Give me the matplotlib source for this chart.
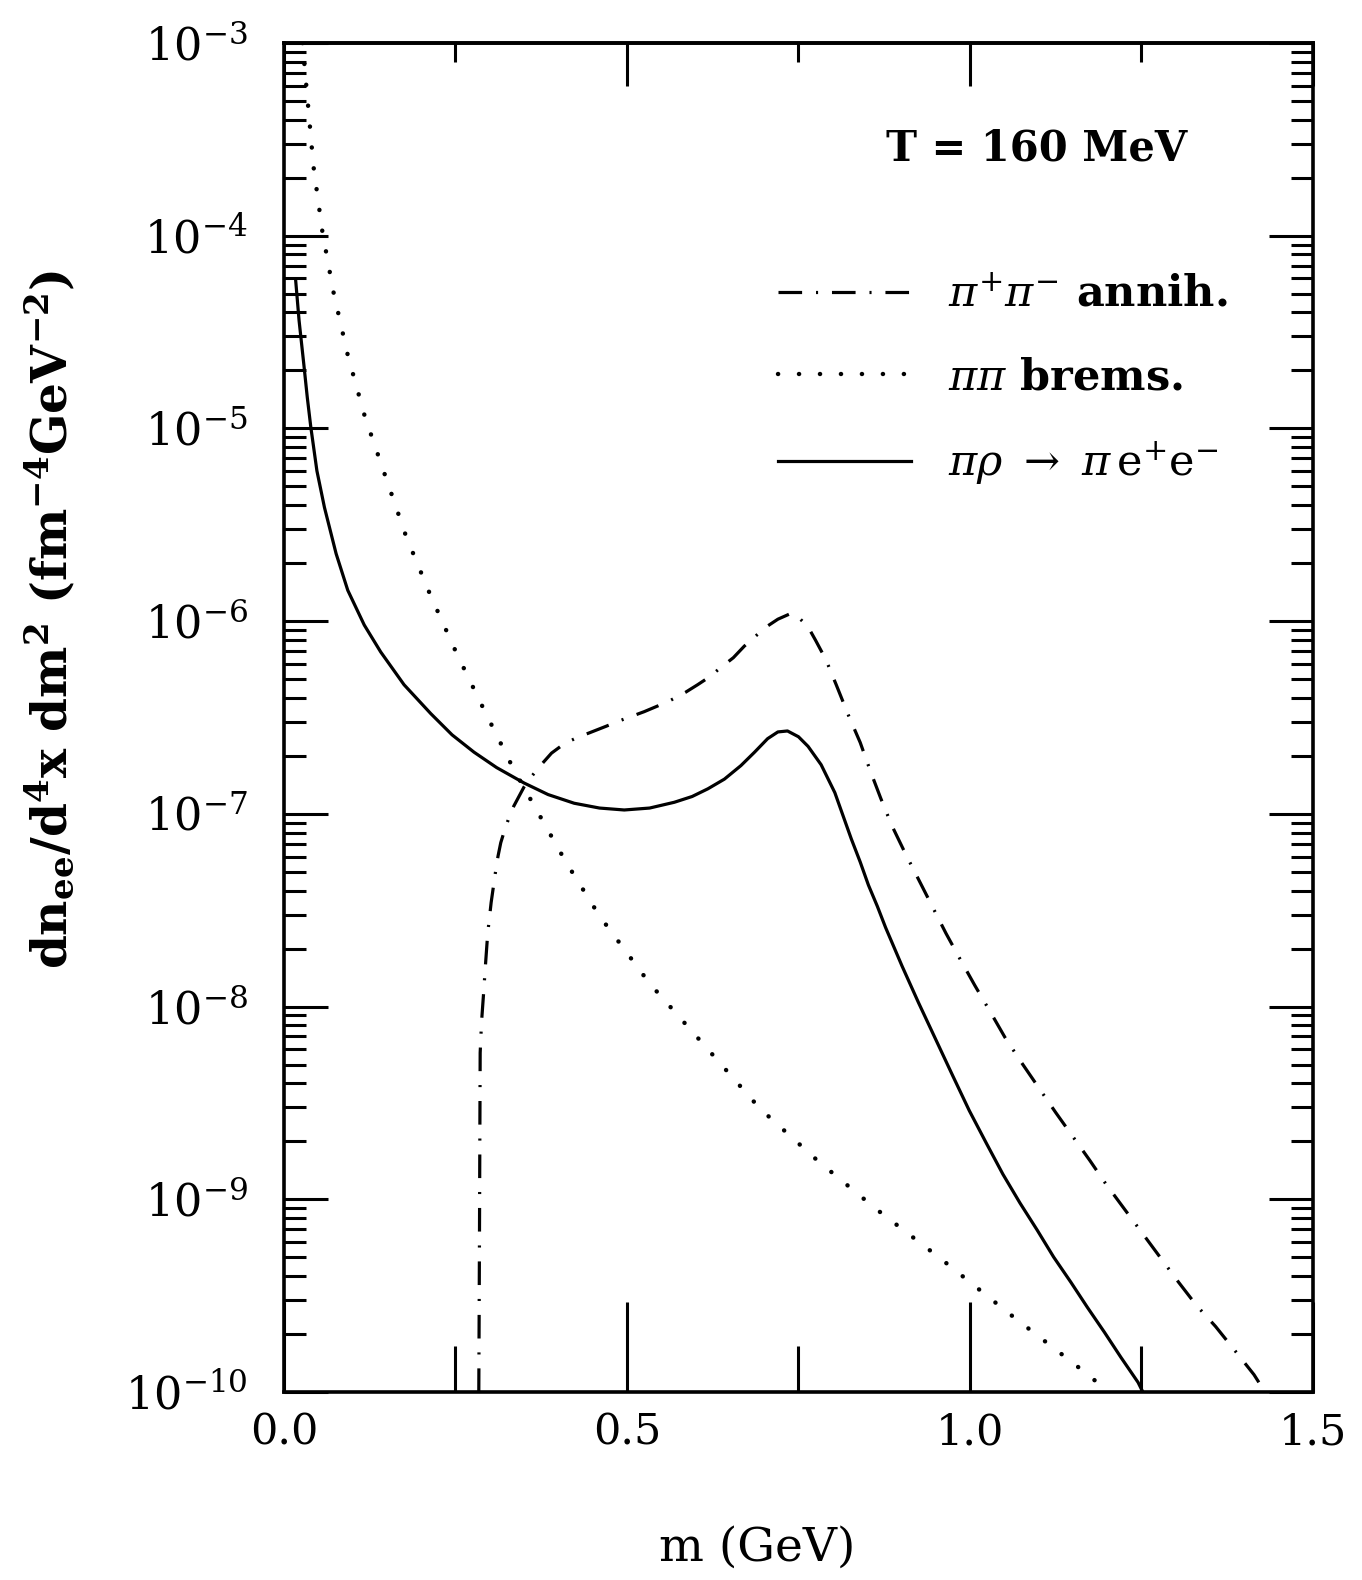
import numpy as np
import matplotlib
matplotlib.use('Agg')
import matplotlib.pyplot as plt
from matplotlib.ticker import MultipleLocator, LogLocator, NullFormatter
from matplotlib.lines import Line2D

plt.rcParams['font.family'] = 'DejaVu Serif'
plt.rcParams['mathtext.fontset'] = 'dejavuserif'
plt.rcParams['lines.scale_dashes'] = False

# pi rho -> pi e+ e-  (solid), values as log10 of the rate
m_pirho = [0.017, 0.022, 0.029, 0.034, 0.039, 0.048, 0.059, 0.076, 0.093, 0.117,
           0.141, 0.175, 0.214, 0.245, 0.277, 0.310, 0.350, 0.385, 0.423, 0.460,
           0.496, 0.533, 0.569, 0.595, 0.618, 0.642, 0.666, 0.686, 0.705, 0.720,
           0.734, 0.750, 0.764, 0.783, 0.803, 0.815, 0.827, 0.840, 0.852, 0.865,
           0.877, 0.901, 0.925, 0.950, 0.975, 0.999, 1.024, 1.048, 1.073, 1.098,
           1.122, 1.147, 1.171, 1.196, 1.220, 1.245, 1.252]
lg_pirho = [-4.23, -4.44, -4.67, -4.84, -4.99, -5.22, -5.41, -5.65, -5.84, -6.02,
            -6.16, -6.33, -6.48, -6.59, -6.68, -6.76, -6.84, -6.90, -6.945, -6.97,
            -6.98, -6.97, -6.94, -6.91, -6.87, -6.82, -6.75, -6.68, -6.61, -6.575,
            -6.57, -6.60, -6.65, -6.745, -6.89, -7.01, -7.13, -7.25, -7.37, -7.48,
            -7.59, -7.79, -7.98, -8.17, -8.36, -8.54, -8.71, -8.87, -9.02, -9.16,
            -9.30, -9.43, -9.56, -9.69, -9.82, -9.95, -10.0]

# pi pi bremsstrahlung (dotted)
m_brems = [0.027, 0.032, 0.043, 0.056, 0.072, 0.093, 0.118, 0.148, 0.178, 0.214,
           0.252, 0.293, 0.335, 0.365, 0.411, 0.460, 0.533, 0.615, 0.694, 0.778,
           0.863, 0.958, 1.056, 1.154, 1.203]
lg_brems = [-3.0, -3.20, -3.64, -3.98, -4.29, -4.62, -4.94, -5.25, -5.56, -5.87,
            -6.17, -6.47, -6.77, -6.96, -7.25, -7.53, -7.88, -8.21, -8.53, -8.80,
            -9.05, -9.31, -9.59, -9.86, -10.0]

# pi+ pi- annihilation (dash-dot)
m_annih = [0.284, 0.2845, 0.285, 0.2855, 0.286, 0.288, 0.291, 0.294, 0.297, 0.302,
           0.308, 0.312, 0.316, 0.322, 0.329, 0.335, 0.341, 0.350, 0.360, 0.375,
           0.390, 0.409, 0.430, 0.445, 0.470, 0.487, 0.525, 0.545, 0.564, 0.585,
           0.603, 0.620, 0.637, 0.655, 0.671, 0.690, 0.703, 0.720, 0.739, 0.750,
           0.764, 0.775, 0.790, 0.805, 0.823, 0.840, 0.855, 0.870, 0.886, 0.905,
           0.925, 0.945, 0.965, 0.985, 1.007, 1.030, 1.051, 1.075, 1.100, 1.125,
           1.149, 1.175, 1.198, 1.225, 1.250, 1.277, 1.304, 1.330, 1.358, 1.385,
           1.414, 1.430]
lg_annih = [-10.0, -9.6, -9.18, -8.7, -8.24, -8.08, -7.93, -7.77, -7.62, -7.46,
            -7.31, -7.22, -7.15, -7.08, -7.01, -6.96, -6.92, -6.86, -6.81, -6.745,
            -6.685, -6.635, -6.60, -6.58, -6.545, -6.52, -6.47, -6.44, -6.41, -6.37,
            -6.33, -6.29, -6.24, -6.19, -6.13, -6.07, -6.03, -5.99, -5.96, -5.98,
            -6.03, -6.10, -6.20, -6.33, -6.49, -6.63, -6.78, -6.92, -7.06, -7.20,
            -7.34, -7.48, -7.62, -7.75, -7.89, -8.03, -8.16, -8.29, -8.42, -8.55,
            -8.67, -8.80, -8.92, -9.05, -9.17, -9.30, -9.43, -9.55, -9.66, -9.78,
            -9.91, -10.0]

labels = [r'$\pi^{+}\pi^{-}$ annih.', r'$\pi\pi$ brems.',
          r'$\pi\rho\ \rightarrow\ \pi\,\mathrm{e}^{+}\mathrm{e}^{-}$']

fig = plt.figure(figsize=(13.62, 15.80), dpi=100)
ax = fig.add_axes([0.2085, 0.119, 0.7555, 0.8538])

dashdot = (17, 10, 1.5, 10)
dots = (0.1, 15)
ax.plot(m_annih, 10 ** np.array(lg_annih), color='black', lw=2.3, dashes=dashdot)
ax.plot(m_brems, 10 ** np.array(lg_brems), color='black', lw=3.2, dashes=dots,
        dash_capstyle='round')
ax.plot(m_pirho, 10 ** np.array(lg_pirho), color='black', lw=2.3)

ax.set_xlim(0, 1.5)
ax.set_yscale('log')
ax.set_ylim(1e-10, 1e-3)

ax.xaxis.set_major_locator(MultipleLocator(0.5))
ax.xaxis.set_minor_locator(MultipleLocator(0.25))
ax.xaxis.set_major_formatter(plt.FuncFormatter(lambda v, p: '%.1f' % v))
ax.yaxis.set_major_locator(LogLocator(base=10, numticks=20))
ax.yaxis.set_minor_locator(LogLocator(base=10, subs=np.arange(2, 10), numticks=20))
ax.yaxis.set_minor_formatter(NullFormatter())

ax.tick_params(which='both', direction='in', top=False, right=True, width=2.2)
ax.tick_params(axis='y', which='major', length=32, pad=26, labelsize=32)
ax.tick_params(axis='y', which='minor', length=16)
ax.tick_params(axis='x', which='major', length=65, pad=14, labelsize=31)
ax.tick_params(axis='x', which='minor', length=33)
for s in ax.spines.values():
    s.set_linewidth(2.6)

top = ax.secondary_xaxis('top')
top.xaxis.set_major_locator(MultipleLocator(0.5))
top.xaxis.set_minor_locator(MultipleLocator(0.25))
top.tick_params(which='both', direction='in', width=2.2, labeltop=False)
top.tick_params(which='major', length=31)
top.tick_params(which='minor', length=14)
top.spines['top'].set_linewidth(2.6)

ax.text(0.585, 0.922, 'T = 160 MeV', transform=ax.transAxes, fontsize=30,
        fontweight='bold', va='center', ha='left')

handles = [Line2D([], [], color='black', lw=2.3, dashes=dashdot),
           Line2D([], [], color='black', lw=3.2, dashes=dots, dash_capstyle='round'),
           Line2D([], [], color='black', lw=2.3)]
ax.legend(handles, labels, loc='upper left', bbox_to_anchor=(0.48, 0.829),
          frameon=False, borderpad=0, borderaxespad=0, handlelength=3.1,
          handletextpad=0.85, labelspacing=0.95,
          prop={'size': 31, 'weight': 'bold'})

ax.set_xlabel('m (GeV)', fontsize=34, labelpad=0)
ax.xaxis.set_label_coords(0.46, -0.099)
fig.text(50 / 1362, 1 - 620 / 1580,
         r'dn$_{\mathbf{ee}}$/d$^{\mathbf{4}}$x dm$^{\mathbf{2}}$ (fm$^{\mathbf{-4}}$GeV$^{\mathbf{-2}}$)',
         rotation=90, fontsize=35, fontweight='bold', va='center', ha='center')

fig.savefig('out.png', dpi=100)
